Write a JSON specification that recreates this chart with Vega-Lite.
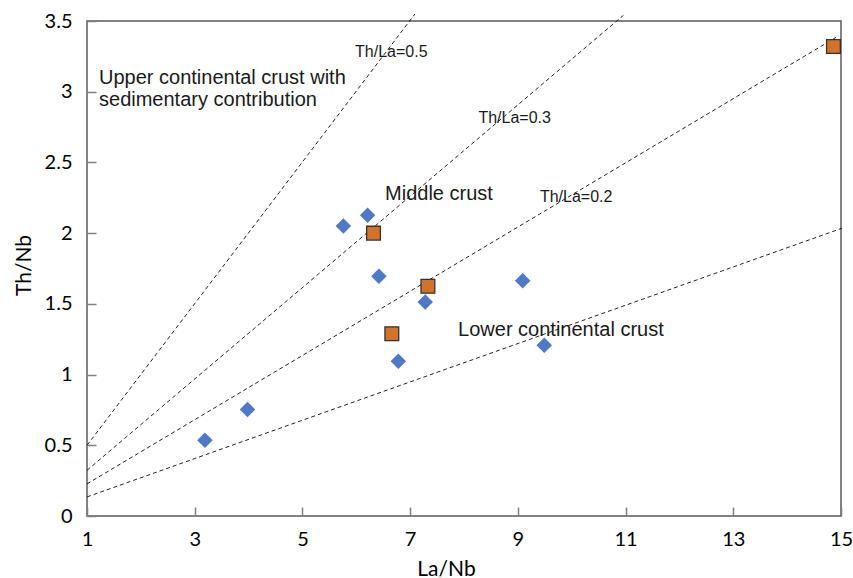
{
  "$schema": "https://vega.github.io/schema/vega-lite/v6.json",
  "width": 754,
  "height": 495,
  "autosize": {"type": "none"},
  "padding": {"left": 87, "top": 21, "right": 12, "bottom": 62},
  "background": "white",
  "config": {
    "view": {"stroke": "#595959", "strokeWidth": 1.5},
    "axis": {
      "domain": false,
      "grid": false,
      "tickColor": "#7f7f7f",
      "tickWidth": 1.5,
      "tickSize": -9,
      "labelFont": "Lato",
      "labelFontSize": 20,
      "labelColor": "#000000",
      "titleFont": "Lato",
      "titleFontSize": 21,
      "titleFontWeight": "normal",
      "titleColor": "#000000"
    }
  },
  "datasets": {
    "samples": [
      {"series": "A", "La_Nb": 3.19, "Th_Nb": 0.535},
      {"series": "A", "La_Nb": 3.98, "Th_Nb": 0.753},
      {"series": "A", "La_Nb": 5.76, "Th_Nb": 2.05},
      {"series": "A", "La_Nb": 6.21, "Th_Nb": 2.127},
      {"series": "A", "La_Nb": 6.42, "Th_Nb": 1.695},
      {"series": "A", "La_Nb": 6.78, "Th_Nb": 1.095},
      {"series": "A", "La_Nb": 7.28, "Th_Nb": 1.513},
      {"series": "A", "La_Nb": 9.09, "Th_Nb": 1.664},
      {"series": "A", "La_Nb": 9.49, "Th_Nb": 1.208},
      {"series": "B", "La_Nb": 6.32, "Th_Nb": 2.0},
      {"series": "B", "La_Nb": 7.33, "Th_Nb": 1.624},
      {"series": "B", "La_Nb": 6.66, "Th_Nb": 1.289},
      {"series": "B", "La_Nb": 14.86, "Th_Nb": 3.32}
    ],
    "reflines": [
      {"line": "0.5", "La_Nb": 1, "Th_Nb": 0.5},
      {"line": "0.5", "La_Nb": 7.09, "Th_Nb": 3.55},
      {"line": "0.3", "La_Nb": 1, "Th_Nb": 0.323},
      {"line": "0.3", "La_Nb": 10.96, "Th_Nb": 3.54},
      {"line": "0.2", "La_Nb": 1, "Th_Nb": 0.227},
      {"line": "0.2", "La_Nb": 14.96, "Th_Nb": 3.396},
      {"line": "lower", "La_Nb": 1, "Th_Nb": 0.135},
      {"line": "lower", "La_Nb": 15.02, "Th_Nb": 2.035}
    ],
    "labels": [
      {"kind": "region", "text": "Upper continental crust with", "La_Nb": 1.223, "Th_Nb": 3.055},
      {"kind": "region", "text": "sedimentary contribution", "La_Nb": 1.223, "Th_Nb": 2.9},
      {"kind": "region", "text": "Middle crust", "La_Nb": 6.534, "Th_Nb": 2.235},
      {"kind": "region", "text": "Lower continental crust", "La_Nb": 7.89, "Th_Nb": 1.272},
      {"kind": "ratio", "text": "Th/La=0.5", "La_Nb": 5.977, "Th_Nb": 3.248},
      {"kind": "ratio", "text": "Th/La=0.3", "La_Nb": 8.267, "Th_Nb": 2.776},
      {"kind": "ratio", "text": "Th/La=0.2", "La_Nb": 9.41, "Th_Nb": 2.22}
    ]
  },
  "layer": [
    {
      "data": {"name": "reflines"},
      "mark": {"type": "line", "stroke": "#222222", "strokeWidth": 1, "strokeDash": [4, 3], "clip": false},
      "encoding": {
        "x": {
          "field": "La_Nb", "type": "quantitative",
          "scale": {"domain": [1, 15], "nice": false, "zero": false},
          "axis": {
            "title": "La/Nb",
            "values": [1, 3, 5, 7, 9, 11, 13, 15],
            "format": "~g",
            "labelPadding": 22,
            "labelFlush": false,
            "titleX": 359,
            "titleY": 42,
            "titleBaseline": "top"
          }
        },
        "y": {
          "field": "Th_Nb", "type": "quantitative",
          "scale": {"domain": [0, 3.5], "nice": false, "zero": true},
          "axis": {
            "title": "Th/Nb",
            "values": [0, 0.5, 1, 1.5, 2, 2.5, 3, 3.5],
            "format": "~g",
            "labelPadding": 24,
            "labelFlush": false,
            "titleX": -63,
            "titleY": 244,
            "titleBaseline": "middle"
          }
        },
        "detail": {"field": "line", "type": "nominal"}
      }
    },
    {
      "data": {"name": "samples"},
      "transform": [{"filter": "datum.series === 'A'"}],
      "mark": {"type": "point", "shape": "diamond", "filled": true, "size": 240, "color": "#4F78C6", "opacity": 1},
      "encoding": {
        "x": {"field": "La_Nb", "type": "quantitative"},
        "y": {"field": "Th_Nb", "type": "quantitative"}
      }
    },
    {
      "data": {"name": "samples"},
      "transform": [{"filter": "datum.series === 'B'"}],
      "mark": {"type": "point", "shape": "square", "filled": true, "size": 190, "fill": "#D2722B", "stroke": "#333333", "strokeWidth": 1.3, "opacity": 1},
      "encoding": {
        "x": {"field": "La_Nb", "type": "quantitative"},
        "y": {"field": "Th_Nb", "type": "quantitative"}
      }
    },
    {
      "data": {"name": "labels"},
      "transform": [{"filter": "datum.kind === 'region'"}],
      "mark": {"type": "text", "font": "Liberation Sans", "fontSize": 20, "align": "left", "baseline": "alphabetic", "color": "#1a1a1a"},
      "encoding": {
        "x": {"field": "La_Nb", "type": "quantitative"},
        "y": {"field": "Th_Nb", "type": "quantitative"},
        "text": {"field": "text"}
      }
    },
    {
      "data": {"name": "labels"},
      "transform": [{"filter": "datum.kind === 'ratio'"}],
      "mark": {"type": "text", "font": "Liberation Sans", "fontSize": 16, "align": "left", "baseline": "alphabetic", "color": "#1a1a1a"},
      "encoding": {
        "x": {"field": "La_Nb", "type": "quantitative"},
        "y": {"field": "Th_Nb", "type": "quantitative"},
        "text": {"field": "text"}
      }
    }
  ]
}
